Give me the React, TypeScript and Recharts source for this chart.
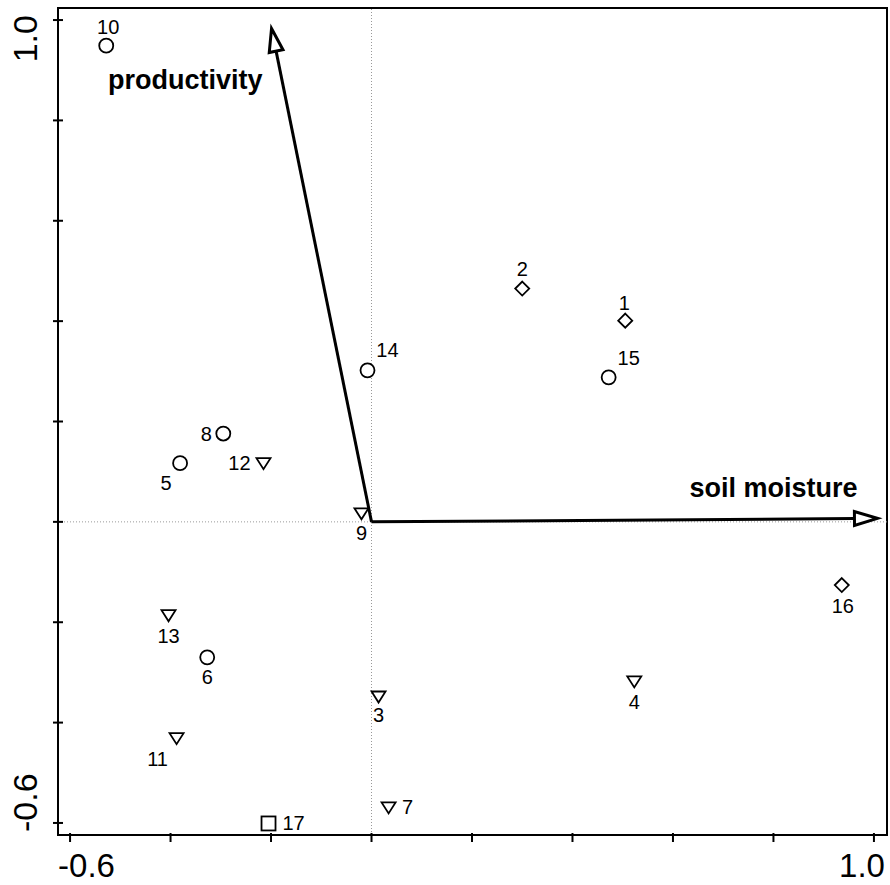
import React from "react";
import {
  ScatterChart,
  Scatter,
  XAxis,
  YAxis,
  ReferenceLine,
  ReferenceArea,
} from "recharts";

// site scores on the two ordination axes
const siteIds = [1, 2, 3, 4, 5, 6, 7, 8, 9, 10, 11, 12, 13, 14, 15, 16, 17];
const siteAxis1 = [0.505, 0.3, 0.014, 0.523, -0.381, -0.327, 0.034, -0.295, -0.02, -0.528, -0.388, -0.215, -0.404, -0.008, 0.472, 0.936, -0.205];
const siteAxis2 = [0.401, 0.465, -0.348, -0.318, 0.117, -0.27, -0.569, 0.176, 0.017, 0.949, -0.431, 0.117, -0.186, 0.302, 0.288, -0.126, -0.601];
const siteGroup = ["diamond", "diamond", "triangle", "triangle", "circle", "circle", "triangle", "circle", "triangle", "circle", "triangle", "triangle", "triangle", "circle", "circle", "diamond", "square"];

// environmental vectors
const envNames = ["soil moisture", "productivity"];
const envAxis1 = [1.007, -0.199];
const envAxis2 = [0.007, 0.983];

const tickValues = [-0.6, -0.4, -0.2, 0, 0.2, 0.4, 0.6, 0.8, 1.0];
const tickLabels: Record<string, string> = { "-0.6": "-0.6", "1": "1.0" };

const groups = ["circle", "triangle", "diamond", "square"];

// label placement around each marker [dx, dy]
const LABEL_OFFSETS: Record<number, [number, number]> = {
  1: [-1, -18], 2: [0, -20], 3: [0, 19], 4: [0, 21], 5: [-14, 20], 6: [0, 20],
  7: [19, 0], 8: [-17, 0], 9: [0, 20], 10: [2, -19], 11: [-19, 21], 12: [-24, 0],
  13: [0, 21], 14: [20, -20], 15: [20, -19], 16: [1, 21], 17: [25, 0],
};
const ENV_LABEL_POS: Record<string, [number, number]> = {
  "soil moisture": [-20, -21],
  productivity: [-9, 60],
};

const FONT = "'Liberation Sans', Arial, sans-serif";
const X_DOMAIN = [-0.624, 1.026];
const Y_DOMAIN = [-0.624, 1.024];

const sites = siteIds.map((id, i) => ({ id, x: siteAxis1[i], y: siteAxis2[i], group: siteGroup[i] }));

function Marker(props: any) {
  const { cx, cy, payload } = props;
  const [dx, dy] = LABEL_OFFSETS[payload.id] || [0, -20];
  const st = { fill: "#fff", stroke: "#000", strokeWidth: 1.8 };
  let mark;
  if (payload.group === "circle") mark = <circle cx={cx} cy={cy} r={7} {...st} />;
  else if (payload.group === "triangle")
    mark = <polygon points={`${cx - 7},${cy - 5} ${cx + 7},${cy - 5} ${cx},${cy + 6}`} {...st} />;
  else if (payload.group === "diamond")
    mark = <polygon points={`${cx},${cy - 7} ${cx + 7},${cy} ${cx},${cy + 7} ${cx - 7},${cy}`} {...st} />;
  else mark = <rect x={cx - 7} y={cy - 7} width={14} height={14} {...st} />;
  return (
    <g>
      {mark}
      <text x={cx + dx} y={cy + dy} textAnchor="middle" dominantBaseline="central" fontFamily={FONT} fontSize={20} fill="#000">
        {payload.id}
      </text>
    </g>
  );
}

function arrowShape(name: string) {
  return (props: any) => {
    const { x1, y1, x2, y2 } = props;
    const ang = Math.atan2(y2 - y1, x2 - x1);
    const len = 23;
    const hw = 7;
    const bx = x2 - len * Math.cos(ang);
    const by = y2 - len * Math.sin(ang);
    const px = -Math.sin(ang) * hw;
    const py = Math.cos(ang) * hw;
    const [lx, ly] = ENV_LABEL_POS[name];
    return (
      <g>
        <line x1={x1} y1={y1} x2={bx} y2={by} stroke="#000" strokeWidth={3} />
        <polygon
          points={`${x2},${y2} ${bx + px},${by + py} ${bx - px},${by - py}`}
          fill="#fff"
          stroke="#000"
          strokeWidth={3}
          strokeLinejoin="miter"
        />
        <text x={x2 + lx} y={y2 + ly} textAnchor="end" fontFamily={FONT} fontWeight="bold" fontSize={27} fill="#000">
          {name}
        </text>
      </g>
    );
  };
}

function XTick(props: any) {
  const { x, y, payload } = props;
  const label = tickLabels[String(payload.value)];
  const first = payload.value < 0;
  return (
    <g>
      <line x1={x} y1={y - 2} x2={x} y2={y + 7} stroke="#000" strokeWidth={2} />
      {label && (
        <text x={first ? x - 12 : x + 11} y={y + 42} textAnchor={first ? "start" : "end"} fontFamily={FONT} fontSize={33} fill="#000">
          {label}
        </text>
      )}
    </g>
  );
}

function YTick(props: any) {
  const { x, y, payload } = props;
  const label = tickLabels[String(payload.value)];
  const first = payload.value < 0;
  const tx = 37;
  const ty = first ? y + 9 : y - 5;
  return (
    <g>
      <line x1={x - 5} y1={y} x2={x + 5} y2={y} stroke="#000" strokeWidth={2} />
      {label && (
        <text
          x={tx}
          y={ty}
          transform={`rotate(-90, ${tx}, ${ty})`}
          textAnchor={first ? "start" : "end"}
          fontFamily={FONT}
          fontSize={34}
          fill="#000"
        >
          {label}
        </text>
      )}
    </g>
  );
}

export default function App() {
  return (
    <div style={{ position: "absolute", left: 0, top: 0, width: 890, height: 885, background: "#fff" }}>
      <ScatterChart width={890} height={885} margin={{ top: 8, right: 3, bottom: 0, left: 0 }}>
        <XAxis
          type="number"
          dataKey="x"
          domain={X_DOMAIN}
          ticks={tickValues}
          interval={0}
          allowDataOverflow
          height={50}
          tickLine={false}
          tickSize={0}
          tickMargin={0}
          axisLine={{ stroke: "#000", strokeWidth: 2 }}
          tick={<XTick />}
        />
        <YAxis
          type="number"
          dataKey="y"
          domain={Y_DOMAIN}
          ticks={tickValues}
          interval={0}
          allowDataOverflow
          width={58}
          tickLine={false}
          tickSize={0}
          tickMargin={0}
          axisLine={{ stroke: "#000", strokeWidth: 2 }}
          tick={<YTick />}
        />
        <ReferenceArea
          x1={X_DOMAIN[0]}
          x2={X_DOMAIN[1]}
          y1={Y_DOMAIN[0]}
          y2={Y_DOMAIN[1]}
          fill="none"
          fillOpacity={0}
          stroke="#000"
          strokeWidth={2}
          ifOverflow="visible"
        />
        <ReferenceLine x={0} stroke="#999" strokeWidth={1} strokeDasharray="1 2" />
        <ReferenceLine y={0} stroke="#999" strokeWidth={1} strokeDasharray="1 2" />
        {envNames.map((name, i) => (
          <ReferenceLine
            key={name}
            segment={[{ x: 0, y: 0 }, { x: envAxis1[i], y: envAxis2[i] }]}
            ifOverflow="visible"
            shape={arrowShape(name)}
          />
        ))}
        {groups.map((g) => (
          <Scatter
            key={g}
            name={g}
            data={sites.filter((s) => s.group === g)}
            shape={<Marker />}
            isAnimationActive={false}
          />
        ))}
      </ScatterChart>
    </div>
  );
}
